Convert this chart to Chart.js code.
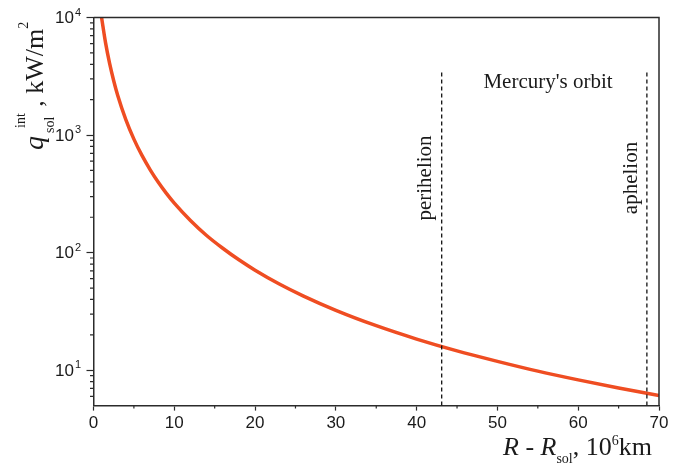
<!DOCTYPE html>
<html><head><meta charset="utf-8">
<script src="https://cdn.jsdelivr.net/npm/chart.js@4/dist/chart.umd.min.js"></script>
<style>html,body{margin:0;padding:0;background:#fff}</style>
</head><body>
<canvas id="c" width="680" height="465"></canvas>
<script>
// ---- data ----
const distance = [1, 1.5, 2, 2.5, 3, 4, 5, 6, 7, 8, 9, 10, 12, 14, 16, 18, 20, 23, 26, 30, 35, 40, 45, 50, 55, 60, 65, 70];
const fluxDensity = [10000, 6050, 4050, 2900, 2170, 1355, 924, 671, 509, 399, 321, 264, 188, 140, 109, 86.9, 70.9, 54.1, 42.7, 32.3, 23.9, 18.4, 14.6, 11.9, 9.82, 8.27, 7.06, 6.10];
const perihelionX = [43.1, 43.1];
const perihelionY = [5, 3600];
const aphelionX = [68.5, 68.5];
const aphelionY = [5, 3400];
const xMajorTicks = [0, 10, 20, 30, 40, 50, 60, 70];
const xMinorTicks = [5, 15, 25, 35, 45, 55, 65];
const yMajorTicks = [10, 100, 1000, 10000];
const yTickExponents = ['1', '2', '3', '4'];
const yMinorTicks = [6, 7, 8, 9, 20, 30, 40, 50, 60, 70, 80, 90, 200, 300, 400, 500, 600, 700, 800, 900, 2000, 3000, 4000, 5000, 6000, 7000, 8000, 9000];
const orbitTitle = "Mercury's orbit";
const orbitLabels = ['perihelion', 'aphelion'];

const SANS = '"Liberation Sans", Arial, sans-serif';
const SERIF = '"Liberation Serif", "Times New Roman", serif';
const AXIS = '#2b2b2b';
const TEXT = '#1a1a1a';

function pts(xs, ys) { return xs.map((x, i) => ({x: x, y: ys[i]})); }

function drawSegments(ctx, segs) {
  let x = 0;
  for (const s of segs) {
    ctx.font = s.font;
    const px = (s.x !== undefined) ? s.x : x;
    ctx.fillText(s.t, px, s.dy || 0);
    const end = px + ctx.measureText(s.t).width;
    if (!s.noAdvance) x = Math.max(x, end);
  }
}

const decor = {
  id: 'decor',
  afterDraw(chart) {
    const ctx = chart.ctx;
    const a = chart.chartArea;
    const xs = chart.scales.x, ys = chart.scales.y;
    ctx.save();
    // top and right frame
    ctx.strokeStyle = AXIS; ctx.lineWidth = 1.5;
    ctx.beginPath();
    ctx.moveTo(a.left, a.top); ctx.lineTo(a.right, a.top); ctx.lineTo(a.right, a.bottom);
    ctx.stroke();
    // minor ticks
    ctx.lineWidth = 1.2;
    ctx.beginPath();
    for (const v of xMinorTicks) { const p = xs.getPixelForValue(v); ctx.moveTo(p, a.bottom); ctx.lineTo(p, a.bottom + 3); }
    for (const v of yMinorTicks) { const p = ys.getPixelForValue(v); ctx.moveTo(a.left, p); ctx.lineTo(a.left - 3.5, p); }
    ctx.stroke();
    // y tick labels with superscripts
    ctx.fillStyle = TEXT;
    ctx.textBaseline = 'middle';
    yMajorTicks.forEach((v, i) => {
      const p = ys.getPixelForValue(v);
      ctx.font = '17px ' + SANS; ctx.textAlign = 'right';
      ctx.fillText('10', 74, p + 1);
      ctx.font = '11px ' + SANS; ctx.textAlign = 'left';
      ctx.fillText(yTickExponents[i], 75, p - 5);
    });
    ctx.textBaseline = 'alphabetic';
    ctx.textAlign = 'left';
    // y axis title (rotated)
    ctx.save();
    ctx.translate(43, 150);
    ctx.rotate(-Math.PI / 2);
    drawSegments(ctx, [
      {t: 'q', font: 'italic 28px ' + SERIF},
      {t: 'sol', font: '14px ' + SERIF, x: 17, dy: 11},
      {t: 'int', font: '14px ' + SERIF, x: 22, dy: -18},
      {t: ' , kW/m', font: '26px ' + SERIF},
      {t: '2', font: '14px ' + SERIF, dy: -15}
    ]);
    ctx.restore();
    // x axis title
    ctx.save();
    ctx.translate(503, 455);
    drawSegments(ctx, [
      {t: 'R', font: 'italic 26px ' + SERIF},
      {t: ' - ', font: '26px ' + SERIF},
      {t: 'R', font: 'italic 26px ' + SERIF},
      {t: 'sol', font: '14px ' + SERIF, dy: 8},
      {t: ', 10', font: '26px ' + SERIF},
      {t: '6', font: '14px ' + SERIF, dy: -10},
      {t: 'km', font: '26px ' + SERIF}
    ]);
    ctx.restore();
    // annotations
    ctx.font = '21px ' + SERIF;
    ctx.textAlign = 'center';
    ctx.fillText(orbitTitle, 548, 88);
    const midY = 178;
    [[431, orbitLabels[0]], [637, orbitLabels[1]]].forEach(([bx, t]) => {
      ctx.save(); ctx.translate(bx, midY); ctx.rotate(-Math.PI / 2);
      ctx.fillText(t, 0, 0); ctx.restore();
    });
    ctx.restore();
  }
};

new Chart(document.getElementById('c'), {
  type: 'line',
  data: {
    datasets: [
      {data: pts(perihelionX, perihelionY), borderColor: '#111', borderWidth: 1.3, borderDash: [4, 3], pointRadius: 0, fill: false},
      {data: pts(aphelionX, aphelionY), borderColor: '#111', borderWidth: 1.3, borderDash: [4, 3], pointRadius: 0, fill: false},
      {data: pts(distance, fluxDensity), borderColor: '#EF4D22', borderWidth: 3.5, pointRadius: 0, fill: false, cubicInterpolationMode: 'monotone'}
    ]
  },
  plugins: [decor],
  options: {
    responsive: false,
    devicePixelRatio: 1,
    animation: false,
    layout: {padding: {left: 86.5, top: 17.5, right: 21, bottom: 28}},
    plugins: {legend: {display: false}, tooltip: {enabled: false}},
    scales: {
      x: {
        type: 'linear', min: 0, max: 70,
        afterBuildTicks: (s) => { s.ticks = xMajorTicks.map(v => ({value: v})); },
        ticks: {color: TEXT, font: {family: SANS, size: 17}, padding: 3, maxRotation: 0, autoSkip: false},
        grid: {drawOnChartArea: false, drawTicks: true, tickLength: 5, tickColor: AXIS, tickWidth: 1.2},
        border: {display: true, color: AXIS, width: 1.5}
      },
      y: {
        type: 'logarithmic', min: 5, max: 10000,
        afterBuildTicks: (s) => { s.ticks = yMajorTicks.map(v => ({value: v})); },
        ticks: {display: false},
        grid: {drawOnChartArea: false, drawTicks: true, tickLength: 7, tickColor: AXIS, tickWidth: 1.2},
        border: {display: true, color: AXIS, width: 1.5}
      }
    }
  }
});
</script>
</body></html>
